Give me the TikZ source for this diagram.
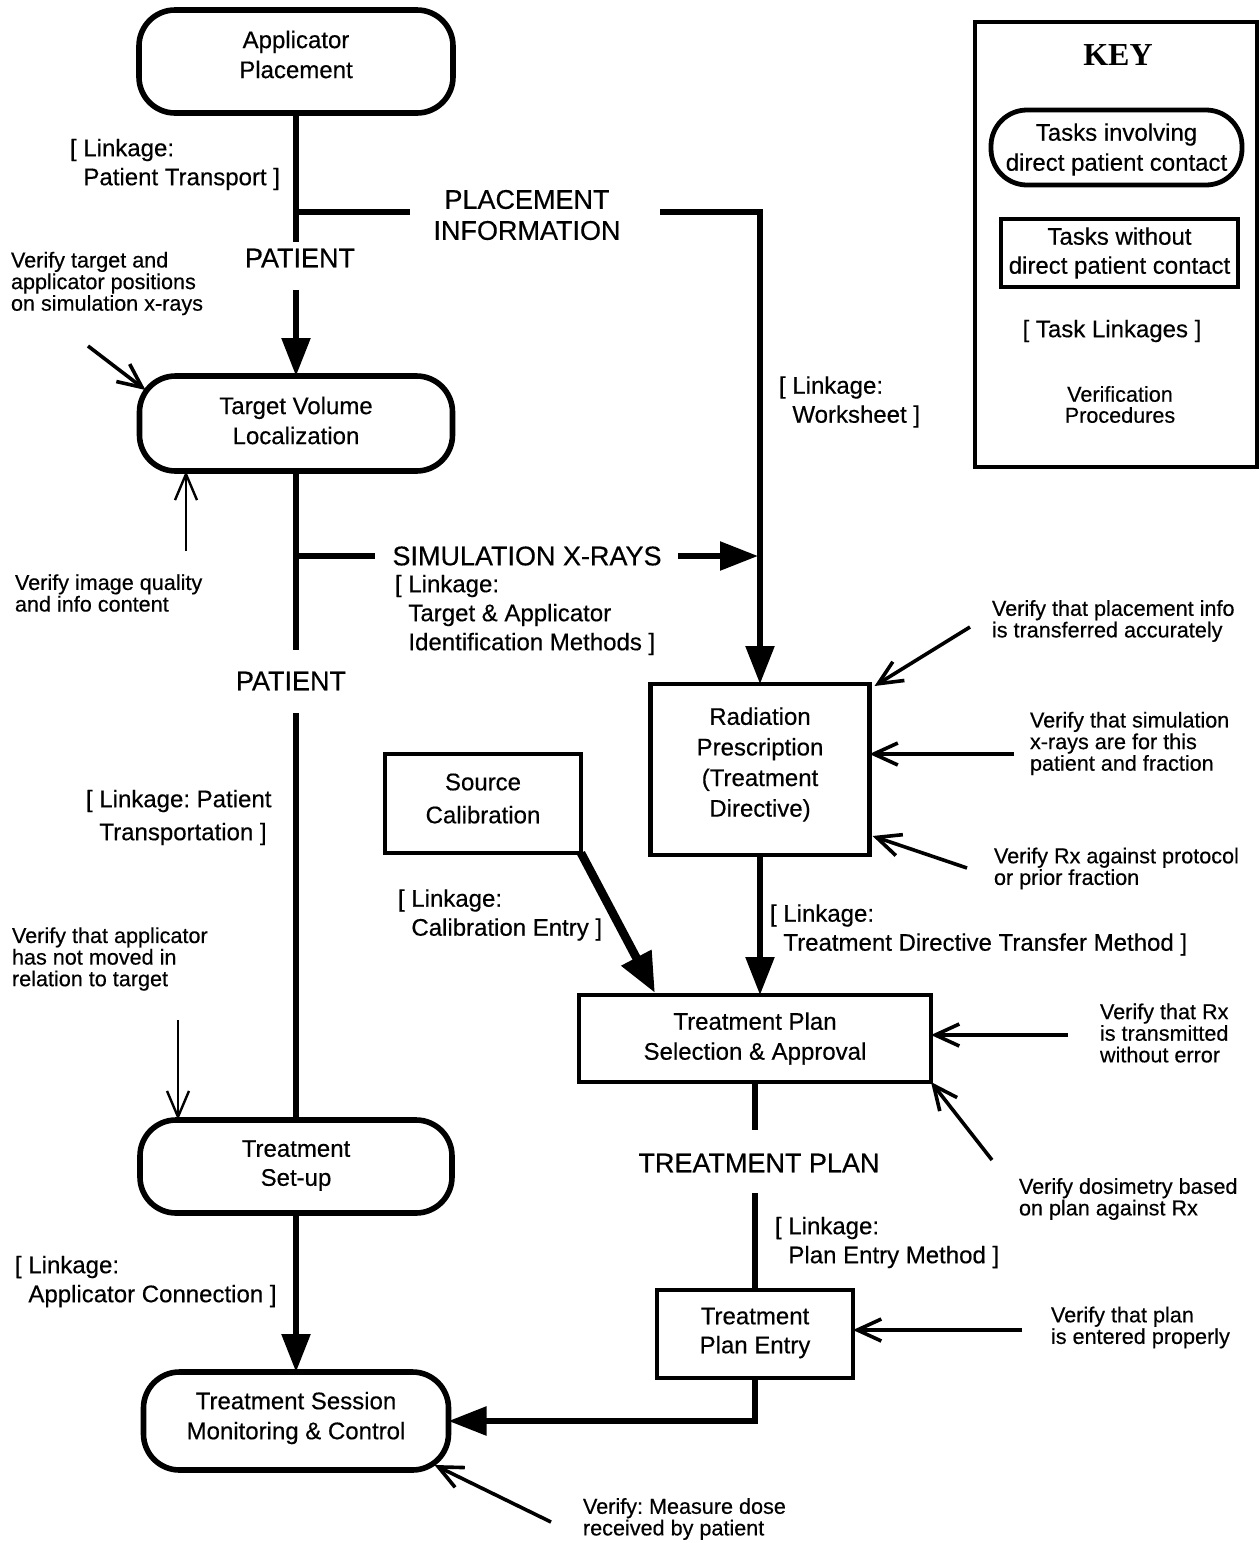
\documentclass[tikz,border=0pt]{standalone}
\usepackage{fontspec}
\setmainfont{Liberation Sans}[FakeBold=0.4]
\newfontfamily\keyfont{Liberation Serif}
\usetikzlibrary{arrows.meta,calc}
\newcommand\lind{\hspace*{0.56em}}
\begin{document}
\frenchspacing
\begin{tikzpicture}[x=0.5pt,y=-0.5pt,
  every node/.style={inner sep=0pt, outer sep=0pt},
  rbox/.style={draw, line width=2.8pt, rounded corners=18pt},
  sbox/.style={draw, line width=2.2pt},
  btxt/.style={align=center, font=\fontsize{12}{15}\selectfont},
  lbl/.style={anchor=west, align=left, font=\fontsize{12}{14.5}\selectfont},
  big/.style={align=center, font=\fontsize{13.5}{15.5}\selectfont},
  vfy/.style={anchor=west, align=left, font=\fontsize{10.8}{10.8}\selectfont},
  conn/.style={line width=2.8pt},
  fa/.style={conn, -{Triangle[length=19pt,width=14pt]}},
  varrow/.style={line width=1.8pt, -{Straight Barb[length=12pt,width=11pt]}},
  tarrow/.style={line width=1.2pt, -{Straight Barb[length=13pt,width=11pt]}}
]
\path[use as bounding box, fill=white] (0,0) rectangle (1259,1543);

% ---------- boxes ----------
\node[rbox, minimum width=157pt, minimum height=51.5pt] (app) at (296,61.5) {};
\node[rbox, minimum width=156.5pt, minimum height=47.5pt] (tvl) at (296,423.5) {};
\node[rbox, minimum width=156pt, minimum height=46.5pt] (setup) at (296,1166.5) {};
\node[rbox, minimum width=152.5pt, minimum height=49pt] (session) at (296,1421) {};
\node[sbox, minimum width=109.5pt, minimum height=85.5pt] (rad) at (760,769.5) {};
\node[sbox, minimum width=98pt, minimum height=49.5pt] (src) at (483,803.5) {};
\node[sbox, minimum width=176pt, minimum height=43.5pt] (tps) at (755,1038.5) {};
\node[sbox, minimum width=98pt, minimum height=44pt] (tpe) at (755,1334) {};

% ---------- box texts ----------
\node[btxt] (appT) at ($(app)+(0,-7)$) {Applicator\\Placement};
\node[btxt] (tvlT) at ($(tvl)+(0,-3)$) {Target Volume\\Localization};
\node[btxt, font=\fontsize{12}{14.5}\selectfont] (setupT) at ($(setup)+(0,-1)$) {Treatment\\Set-up};
\node[btxt] (sessionT) at ($(session)+(0,-3)$) {Treatment Session\\Monitoring \& Control};
\node[btxt, font=\fontsize{12}{15.3}\selectfont] (radT) at ($(rad)+(0,-5)$) {Radiation\\Prescription\\(Treatment\\Directive)};
\node[btxt, font=\fontsize{12}{16.5}\selectfont] (srcT) at ($(src)+(0,-5)$) {Source\\Calibration};
\node[btxt] (tpsT) at (tps) {Treatment Plan\\Selection \& Approval};
\node[btxt, font=\fontsize{12}{14.5}\selectfont] (tpeT) at ($(tpe)+(0,-1)$) {Treatment\\Plan Entry};

% ---------- flow labels ----------
\node[big] (pat1) at (300,258) {PATIENT};
\node[big] (pinfo) at (527,215) {PLACEMENT\\INFORMATION};
\node[big] (sim) at (527,556) {SIMULATION X-RAYS};
\node[big] (pat2) at (291,681) {PATIENT};
\node[big] (tplan) at (759,1163) {TREATMENT PLAN};

% ---------- linkages ----------
\node[lbl] (lk1) at (70,164.5) {[ Linkage:\\\lind Patient Transport ]};
\node[lbl] (lk2) at (779,402) {[ Linkage:\\\lind Worksheet ]};
\node[lbl] (lk3) at (395,615) {[ Linkage:\\\lind Target \& Applicator\\\lind Identification Methods ]};
\node[lbl, font=\fontsize{12}{16.5}\selectfont] (lk4) at (86,817.5) {[ Linkage: Patient\\\lind Transportation ]};
\node[lbl] (lk5) at (398,915) {[ Linkage:\\\lind Calibration Entry ]};
\node[lbl] (lk6) at (770,930) {[ Linkage:\\\lind Treatment Directive Transfer Method ]};
\node[lbl] (lk7) at (775,1242.5) {[ Linkage:\\\lind Plan Entry Method ]};
\node[lbl] (lk8) at (15,1281.5) {[ Linkage:\\\lind Applicator Connection ]};

% ---------- verification texts ----------
\node[vfy] (vA) at (11,283.5) {Verify target and\\applicator positions\\on simulation x-rays};
\node[vfy] (vB) at (15,593) {Verify image quality\\and info content};
\node[vfy] (vC) at (992,621) {Verify that placement info\\is transferred accurately};
\node[vfy] (vD) at (1030,743.5) {Verify that simulation\\x-rays are for this\\patient and fraction};
\node[vfy] (vE) at (994,868.5) {Verify Rx against protocol\\or prior fraction};
\node[vfy] (vF) at (12,959) {Verify that applicator\\has not moved in\\relation to target};
\node[vfy] (vG) at (1100,1033) {Verify that Rx\\is transmitted\\without error};
\node[vfy] (vH) at (1019,1199) {Verify dosimetry based\\on plan against Rx};
\node[vfy] (vI) at (1051,1327.5) {Verify that plan\\is entered properly};
\node[vfy] (vJ) at (583,1519) {Verify: Measure dose\\received by patient};

% ---------- key ----------
\node[draw, line width=2.4pt, minimum width=141pt, minimum height=222.5pt] (key) at (1116,244.5) {};
\node[font={\keyfont\bfseries\fontsize{16}{16}\selectfont}] (keyt) at (1118,55) {KEY};
\node[draw, line width=2.4pt, rounded corners=18pt, minimum width=125.5pt, minimum height=37.5pt] (kpill) at (1116.5,147.5) {};
\node[btxt] (kpillT) at ($(kpill)+(0,2)$) {Tasks involving\\direct patient contact};
\node[draw, line width=1.6pt, minimum width=118.5pt, minimum height=34pt, align=center, font=\fontsize{12}{14.5}\selectfont] (krect) at (1119.5,253) {Tasks without\\direct patient contact};
\node[font=\fontsize{12}{14}\selectfont] (klink) at (1112,331) {[ Task Linkages ]};
\node[align=center, font=\fontsize{10.8}{10.5}\selectfont] (kver) at (1120,404.5) {Verification\\Procedures};

% ---------- junction coordinates ----------
\coordinate (pa) at (296,242);
\coordinate (pb) at (296,290);
\coordinate (j1) at (296,212);
\coordinate (pil) at (410,212);
\coordinate (pir) at (660,212);
\coordinate (j2) at (296,556);
\coordinate (sxl) at (375,556);
\coordinate (sxr) at (678,556);
\coordinate (sxe) at (758,556);
\coordinate (qa) at (296,650);
\coordinate (qb) at (296,713);
\coordinate (ta) at (755,1130);
\coordinate (tb) at (755,1193);
\coordinate (cal) at (655,993);

% ---------- connectors ----------
\draw[conn] (app.south) -- (pa);
\draw[conn] (j1) -- (pil);
\draw[fa] (pir) -| (rad.north);
\draw[fa] (pb) -- (tvl.north);
\draw[conn] (tvl.south) -- (qa);
\draw[conn] (j2) -- (sxl);
\draw[fa] (sxr) -- (sxe);
\draw[conn] (qb) -- (setup.north);
\draw[fa] (setup.south) -- (session.north);
\draw[fa] (rad.south) -- (rad.south |- tps.north);
\draw[conn] (tps.south) -- (ta);
\draw[conn] (tb) -- (tpe.north);
\draw[fa] (tpe.south) |- (session.east);
\draw[line width=4.3pt, -{Triangle[length=20pt,width=16pt]}] (src.south east) -- (cal);

% ---------- verification arrows ----------
\coordinate (a1) at (88,346);
\coordinate (a2) at (186,551);
\coordinate (a3) at (970,627);
\coordinate (a4) at (1014,754);
\coordinate (a5) at (967,868);
\coordinate (a6) at (178,1020);
\coordinate (a7) at (1068,1035);
\coordinate (a8) at (992,1160);
\coordinate (a9) at (1022,1330);
\coordinate (a10) at (551,1522);
\draw[varrow] (a1) -- ($(tvl.north west)+(6,14)$);
\draw[tarrow] (a2) -- (a2 |- tvl.south);
\draw[varrow] (a3) -- ($(rad.north east)+(5,2)$);
\draw[varrow] (a4) -- (a4 -| rad.east);
\draw[varrow] (a5) -- ($(rad.south east)+(3,-19)$);
\draw[tarrow] (a6) -- (a6 |- setup.north);
\draw[varrow] (a7) -- (a7 -| tps.east);
\draw[varrow] (a8) -- (tps.south east);
\draw[varrow] (a9) -- (a9 -| tpe.east);
\draw[varrow] (a10) -- ($(session.south east)+(-14,-5)$);
\end{tikzpicture}
\end{document}
